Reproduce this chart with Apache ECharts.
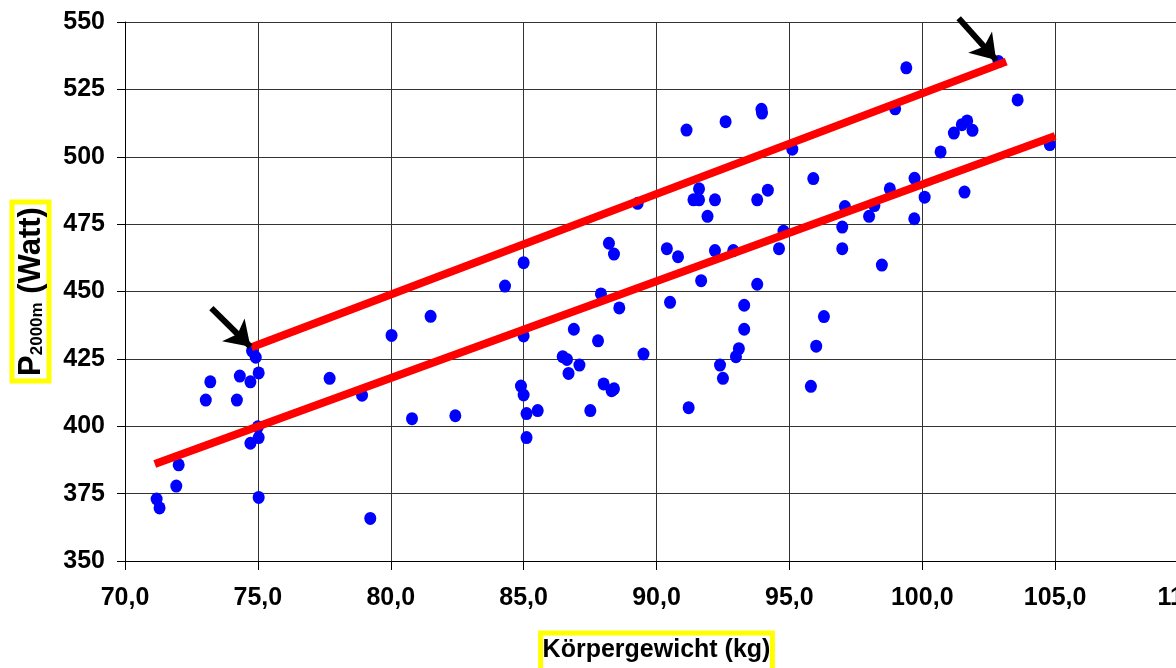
<!DOCTYPE html>
<html>
<head>
<meta charset="utf-8">
<script src="https://cdn.jsdelivr.net/npm/echarts@6/dist/echarts.min.js"></script>
<style>html,body{margin:0;padding:0;background:#fff;}#chart{width:1176px;height:668px;}</style>
</head>
<body>
<div id="chart"></div>
<script>
// Körpergewicht (kg) of each athlete
const weightKg = [71.19,71.30,71.93,72.02,73.04,73.21,74.21,74.32,74.72,74.78,74.92,75.03,75.00,75.03,74.72,75.03,77.70,78.92,79.23,80.03,81.50,80.80,82.43,84.30,85.00,85.00,84.90,85.00,85.11,85.53,85.11,86.89,86.47,86.63,86.69,87.10,87.80,87.91,88.60,87.51,88.01,88.31,88.40,88.21,88.40,89.29,89.51,90.39,90.81,90.51,91.21,91.60,91.39,91.60,91.92,92.20,92.20,91.68,92.89,93.79,94.19,93.79,93.30,93.30,93.10,92.99,92.39,92.50,94.61,94.78,91.13,92.60,93.95,93.97,95.11,99.40,98.98,103.59,101.19,101.49,101.69,101.89,100.69,104.80,102.87,95.90,99.71,98.78,100.09,101.59,97.09,98.20,98.00,99.70,96.99,96.99,98.48,96.30,96.01,95.81];
// P2000m (Watt) of each athlete
const powerW = [373.0,369.7,377.8,385.7,409.7,416.5,409.7,418.6,416.5,428.0,425.6,419.8,399.8,395.8,393.7,373.6,417.8,411.5,365.8,433.7,440.8,402.8,403.9,452.0,460.7,433.5,414.9,411.6,404.7,405.8,395.8,436.0,425.8,424.8,419.6,422.7,431.7,449.1,443.9,405.8,415.7,413.2,413.9,467.9,463.9,482.7,426.8,465.9,462.9,446.0,406.9,488.1,484.0,484.0,477.9,484.0,465.2,454.0,465.2,484.0,487.6,452.7,444.9,436.0,428.8,425.8,422.7,417.8,465.9,472.4,509.9,513.0,517.6,516.2,502.8,533.0,517.8,521.1,508.8,511.9,513.3,509.8,501.8,504.5,535.3,491.9,492.0,488.1,485.0,486.9,481.5,481.9,477.9,477.0,473.9,465.9,459.8,440.7,429.7,414.8];
// red lines: [x, y] end points
const lowerLine = [[71.12, 386.0], [105.0, 507.7]];
const upperLine = [[74.76, 429.3], [103.16, 535.3]];
// arrows: [tail, tip]
const arrow1 = [[73.25, 443.8], [74.72, 429.5]];
const arrow2 = [[101.37, 551.4], [102.78, 535.9]];
// axes
const xMin = 70, xMax = 110, xStep = 5;
const yMin = 350, yMax = 550, yStep = 25;

const FONT = 'Liberation Sans, Arial, sans-serif';
const points = weightKg.map((w, i) => [w, powerW[i]]);

const chart = echarts.init(document.getElementById('chart'), null, {renderer: 'canvas'});
chart.setOption({
  animation: false,
  backgroundColor: '#fff',
  grid: {left: 125, top: 22, width: 1063, height: 539, containLabel: false, outerBoundsMode: 'none'},
  xAxis: {
    type: 'value', min: xMin, max: xMax, interval: xStep,
    name: 'Körpergewicht (kg)', nameLocation: 'middle', nameGap: 72,
    nameTextStyle: {fontFamily: FONT, fontWeight: 'bold', fontSize: 25, color: '#000',
      borderColor: '#ffff00', borderWidth: 5, padding: [5, 2, 8, 2]},
    axisLine: {show: true, lineStyle: {color: '#000', width: 1}},
    axisTick: {show: true, length: 9, lineStyle: {color: '#000'}},
    axisLabel: {fontFamily: FONT, fontWeight: 'bold', fontSize: 25, color: '#000', margin: 25,
      formatter: v => v.toFixed(1).replace('.', ',')},
    splitLine: {show: true, lineStyle: {color: '#333', width: 1}}
  },
  yAxis: {
    type: 'value', min: yMin, max: yMax, interval: yStep,
    name: '{p|P}{s|2000m}{p| (Watt)}', nameLocation: 'middle', nameGap: 76, nameRotate: 90,
    nameTextStyle: {borderColor: '#ffff00', borderWidth: 5, padding: [2, 5, 1, 5],
      rich: {
        p: {fontFamily: FONT, fontWeight: 'bold', fontSize: 31, color: '#000', lineHeight: 34},
        s: {fontFamily: FONT, fontWeight: 'bold', fontSize: 17, color: '#000', lineHeight: 34, padding: [12, 0, 0, 0]}
      }},
    axisLine: {show: true, lineStyle: {color: '#000', width: 1}},
    axisTick: {show: true, length: 8, lineStyle: {color: '#000'}},
    axisLabel: {fontFamily: FONT, fontWeight: 'bold', fontSize: 25, color: '#000', margin: 20},
    splitLine: {show: true, lineStyle: {color: '#333', width: 1}}
  },
  series: [
    {
      type: 'scatter', data: points, symbol: 'circle', symbolSize: [12, 13],
      itemStyle: {color: '#0000ff', opacity: 1}, z: 2
    },
    {
      type: 'line', data: lowerLine, symbol: 'none', z: 3,
      lineStyle: {color: '#ff0000', width: 8, cap: 'butt'}
    },
    {
      type: 'line', data: upperLine, symbol: 'none', z: 3,
      lineStyle: {color: '#ff0000', width: 8, cap: 'butt'}
    },
    {
      type: 'lines', coordinateSystem: 'cartesian2d', clip: false, z: 4, silent: true,
      symbol: ['none', 'arrow'], symbolSize: [22, 24],
      lineStyle: {color: '#000', width: 6, opacity: 1, curveness: 0},
      data: [{coords: arrow1}, {coords: arrow2}]
    }
  ]
});
</script>
</body>
</html>
